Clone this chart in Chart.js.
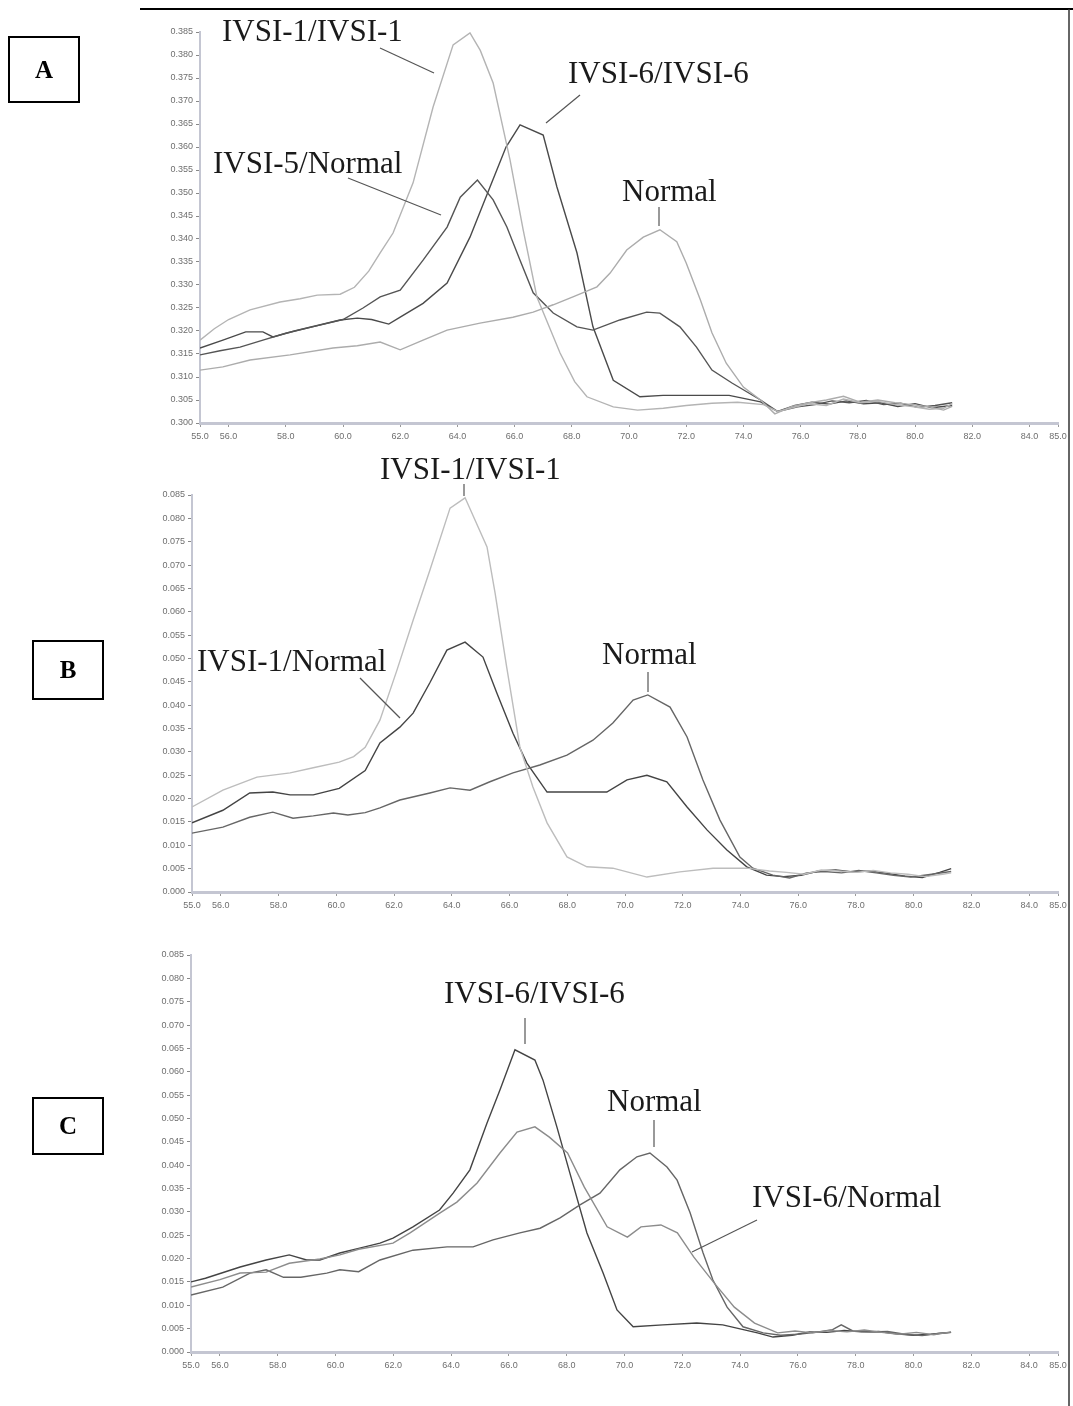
<!DOCTYPE html>
<html>
<head>
<meta charset="utf-8">
<script src="https://cdn.jsdelivr.net/npm/chart.js@4"></script>
<style>
  body { margin: 0; background: #fff; }
  #page { position: relative; width: 1073px; height: 1406px; overflow: hidden; }
  canvas { position: absolute; left: 0; }
  .lbl { position: absolute; font-family: "Liberation Serif", "Times New Roman", serif; font-size: 31px; color: #1a1a1a; white-space: nowrap; line-height: 1; transform: translateY(-50%); }
  .box { position: absolute; border: 2px solid #000; font-family: "Liberation Serif", serif; font-weight: bold; font-size: 25px; display: flex; align-items: center; justify-content: center; box-sizing: border-box; }
  svg { position: absolute; left: 0; top: 0; }
</style>
</head>
<body>
<div id="page">
  <canvas id="chartA" style="top:0px"></canvas>
  <canvas id="chartB" style="top:460px"></canvas>
  <canvas id="chartC" style="top:930px"></canvas>

  <svg width="1073" height="1406">
    <line x1="140" y1="9" x2="1073" y2="9" stroke="#000" stroke-width="2"/>
    <line x1="1069" y1="9" x2="1069" y2="1406" stroke="#333" stroke-width="1.5"/>
    <g stroke="#555" stroke-width="1.2">
      <line x1="380" y1="48" x2="434" y2="73"/>
      <line x1="580" y1="95" x2="546" y2="123"/>
      <line x1="348" y1="178" x2="441" y2="215"/>
      <line x1="659" y1="207" x2="659" y2="226"/>
      <line x1="464" y1="484" x2="464" y2="496"/>
      <line x1="360" y1="678" x2="400" y2="718"/>
      <line x1="648" y1="672" x2="648" y2="692"/>
      <line x1="525" y1="1018" x2="525" y2="1044"/>
      <line x1="654" y1="1120" x2="654" y2="1147"/>
      <line x1="757" y1="1220" x2="692" y2="1252"/>
    </g>
  </svg>

  <div class="box" style="left:8px;top:36px;width:72px;height:67px">A</div>
  <div class="box" style="left:32px;top:640px;width:72px;height:60px">B</div>
  <div class="box" style="left:32px;top:1097px;width:72px;height:58px">C</div>

  <div class="lbl" style="left:222px;top:30px">IVSI-1/IVSI-1</div>
  <div class="lbl" style="left:568px;top:72px">IVSI-6/IVSI-6</div>
  <div class="lbl" style="left:213px;top:162px">IVSI-5/Normal</div>
  <div class="lbl" style="left:622px;top:190px">Normal</div>

  <div class="lbl" style="left:380px;top:468px">IVSI-1/IVSI-1</div>
  <div class="lbl" style="left:197px;top:660px">IVSI-1/Normal</div>
  <div class="lbl" style="left:602px;top:653px">Normal</div>

  <div class="lbl" style="left:444px;top:992px">IVSI-6/IVSI-6</div>
  <div class="lbl" style="left:607px;top:1100px">Normal</div>
  <div class="lbl" style="left:752px;top:1196px">IVSI-6/Normal</div>
</div>

<script>
// x ticks shared by all three panels
var xTicks = [55, 56, 58, 60, 62, 64, 66, 68, 70, 72, 74, 76, 78, 80, 82, 84, 85];
var yTicksA = [0.300, 0.305, 0.310, 0.315, 0.320, 0.325, 0.330, 0.335, 0.340, 0.345, 0.350, 0.355, 0.360, 0.365, 0.370, 0.375, 0.380, 0.385];
var yTicksBC = [0.000, 0.005, 0.010, 0.015, 0.020, 0.025, 0.030, 0.035, 0.040, 0.045, 0.050, 0.055, 0.060, 0.065, 0.070, 0.075, 0.080, 0.085];

// panel A
var aIvsi1 = [[55,0.318],[55.5,0.3205],[56,0.3225],[56.75,0.3246],[57.8,0.3263],[58.5,0.327],[59.1,0.3278],[59.9,0.328],[60.4,0.3295],[60.9,0.333],[61.3,0.337],[61.75,0.3413],[62.45,0.3522],[63.15,0.3687],[63.85,0.3822],[64.44,0.3848],[64.8,0.381],[65.25,0.3739],[65.84,0.3572],[66.3,0.342],[66.78,0.3274],[67.59,0.3152],[68.1,0.309],[68.53,0.3057],[69.45,0.3035],[70.3,0.3028],[71.2,0.3032],[72.0,0.3038],[72.9,0.3043],[73.8,0.3045],[74.7,0.304],[75.2,0.3025],[75.7,0.3033],[76.3,0.3042],[76.9,0.3038],[77.5,0.3052],[78.1,0.3044],[78.7,0.3047],[79.3,0.304],[79.9,0.3036],[80.5,0.303],[81.0,0.3032],[81.3,0.3042]];
var aIvsi6 = [[55,0.3163],[55.8,0.318],[56.6,0.3198],[57.2,0.3198],[57.55,0.3187],[58.3,0.32],[59.1,0.3212],[59.9,0.3224],[60.5,0.3228],[61.0,0.3225],[61.6,0.3215],[62.0,0.323],[62.8,0.326],[63.64,0.3304],[64.44,0.3404],[65.14,0.3513],[65.7,0.36],[66.19,0.3648],[67.0,0.3626],[67.48,0.3513],[68.18,0.337],[68.74,0.3209],[69.45,0.3093],[70.38,0.3057],[71.19,0.306],[72.3,0.306],[73.5,0.306],[74.6,0.3046],[75.2,0.3025],[75.8,0.3038],[76.4,0.3045],[77.0,0.3041],[77.6,0.3048],[78.2,0.3042],[78.8,0.3044],[79.4,0.3036],[80.0,0.3042],[80.6,0.3033],[81.3,0.3038]];
var aIvsi5 = [[55,0.3148],[55.7,0.3157],[56.4,0.3165],[57.2,0.318],[58.0,0.3195],[59.0,0.321],[60.0,0.3225],[60.7,0.325],[61.3,0.3274],[62.0,0.3289],[62.8,0.3354],[63.64,0.3426],[64.1,0.3491],[64.7,0.3528],[65.25,0.3485],[65.73,0.3426],[66.19,0.3354],[66.65,0.3283],[67.35,0.3239],[68.18,0.3209],[68.74,0.3202],[69.68,0.3224],[70.62,0.3241],[71.08,0.3239],[71.78,0.3209],[72.36,0.3165],[72.9,0.3115],[73.6,0.3087],[74.6,0.305],[75.2,0.3025],[75.9,0.3035],[76.5,0.304],[77.1,0.3048],[77.7,0.3044],[78.3,0.3049],[78.9,0.304],[79.5,0.3043],[80.1,0.3034],[80.7,0.3038],[81.3,0.3044]];
var aNormal = [[55,0.3115],[55.8,0.3122],[56.75,0.3137],[58.15,0.3148],[59.65,0.3163],[60.5,0.3168],[61.3,0.3176],[62.0,0.3159],[62.8,0.318],[63.64,0.3202],[64.79,0.3217],[65.94,0.323],[66.65,0.3241],[67.35,0.3257],[68.04,0.3274],[68.88,0.3296],[69.34,0.3326],[69.92,0.3376],[70.5,0.3404],[71.08,0.342],[71.67,0.3394],[72.0,0.3348],[72.5,0.3267],[72.9,0.3196],[73.4,0.313],[74.0,0.3078],[74.6,0.305],[75.1,0.302],[75.7,0.3036],[76.3,0.3044],[76.9,0.305],[77.5,0.3058],[78.1,0.3045],[78.7,0.305],[79.3,0.3044],[79.9,0.304],[80.5,0.3035],[81.0,0.3028],[81.3,0.3036]];

// panel B
var bIvsi1 = [[55,0.0182],[56.07,0.0218],[57.25,0.0246],[58.4,0.0255],[59.2,0.0266],[60.1,0.0278],[60.6,0.029],[61.0,0.031],[61.51,0.0368],[62.1,0.0475],[62.66,0.0582],[63.24,0.0689],[63.94,0.0822],[64.46,0.0844],[65.22,0.0739],[65.5,0.064],[65.9,0.0482],[66.36,0.031],[66.81,0.0225],[67.3,0.0148],[67.99,0.0075],[68.68,0.0054],[69.58,0.0051],[70.76,0.0032],[71.9,0.0043],[73.05,0.0051],[74.22,0.0051],[75.0,0.0045],[75.6,0.0042],[76.2,0.0038],[76.8,0.0047],[77.4,0.0045],[78.0,0.0042],[78.6,0.0046],[79.2,0.0041],[79.8,0.0038],[80.4,0.0033],[81.0,0.0038],[81.3,0.0041]];
var bIvsi1Normal = [[55,0.0148],[56.07,0.0175],[57.0,0.0212],[57.8,0.0214],[58.4,0.0208],[59.2,0.0208],[60.1,0.0222],[61.0,0.026],[61.51,0.0319],[62.2,0.0353],[62.66,0.0383],[63.24,0.0448],[63.83,0.0518],[64.46,0.0535],[65.08,0.0503],[65.56,0.0426],[66.12,0.034],[66.6,0.0276],[67.3,0.0214],[69.37,0.0214],[70.07,0.024],[70.76,0.025],[71.45,0.0236],[72.15,0.0182],[72.84,0.0133],[73.53,0.009],[74.22,0.0054],[74.9,0.0036],[75.5,0.0033],[76.1,0.0036],[76.7,0.0045],[77.3,0.0047],[77.9,0.0043],[78.5,0.0045],[79.1,0.004],[79.7,0.0034],[80.3,0.0031],[80.9,0.0042],[81.3,0.005]];
var bNormal = [[55,0.0126],[56.07,0.0139],[57.0,0.016],[57.8,0.0171],[58.5,0.0158],[59.2,0.0163],[59.9,0.0169],[60.4,0.0165],[61.0,0.017],[61.51,0.018],[62.2,0.0197],[63.24,0.0212],[63.94,0.0223],[64.63,0.0218],[65.32,0.0236],[66.12,0.0255],[67.05,0.0272],[67.99,0.0293],[68.89,0.0325],[69.58,0.0362],[70.28,0.0411],[70.79,0.0422],[71.56,0.0396],[72.15,0.0332],[72.7,0.024],[73.29,0.0154],[73.98,0.0075],[74.43,0.0051],[75.12,0.0036],[75.7,0.003],[76.3,0.0041],[76.9,0.0044],[77.5,0.0041],[78.1,0.0046],[78.7,0.0041],[79.3,0.0036],[79.9,0.0032],[80.5,0.0037],[81.3,0.0044]];

// panel C
var cIvsi6 = [[55,0.015],[55.5,0.0158],[56.7,0.0182],[57.6,0.0197],[58.4,0.0208],[59.0,0.0197],[59.46,0.0197],[60.15,0.0212],[60.8,0.0222],[61.54,0.0233],[61.99,0.0244],[62.68,0.0268],[63.6,0.0304],[64.07,0.034],[64.65,0.039],[65.24,0.049],[65.69,0.0561],[66.21,0.0647],[66.9,0.0625],[67.18,0.0582],[67.66,0.0482],[68.11,0.0383],[68.7,0.0255],[69.26,0.0169],[69.74,0.009],[70.3,0.0054],[71.33,0.0058],[72.5,0.0062],[73.4,0.0058],[74.6,0.0041],[75.14,0.0032],[75.8,0.0036],[76.4,0.0043],[77.0,0.0042],[77.6,0.0046],[78.2,0.0043],[78.8,0.0044],[79.4,0.0039],[80.0,0.0036],[80.6,0.0038],[81.3,0.0042]];
var cIvsi6Normal = [[55,0.0139],[56.0,0.0155],[56.7,0.0169],[57.6,0.0171],[58.4,0.019],[59.46,0.0199],[60.15,0.0208],[60.8,0.022],[61.99,0.0233],[62.58,0.0255],[63.62,0.0298],[64.2,0.0321],[64.9,0.0362],[65.69,0.0426],[66.28,0.0471],[66.9,0.0482],[67.4,0.046],[68.03,0.0426],[68.61,0.0353],[69.4,0.0268],[70.1,0.0246],[70.57,0.0268],[71.26,0.0272],[71.83,0.0255],[72.4,0.0203],[73.1,0.0148],[73.8,0.0096],[74.5,0.0062],[75.3,0.0041],[75.9,0.0045],[76.5,0.0041],[77.1,0.0046],[77.7,0.0043],[78.3,0.0047],[78.9,0.0042],[79.5,0.0038],[80.1,0.0042],[80.7,0.0037],[81.3,0.0043]];
var cNormal = [[55,0.0122],[56.1,0.0139],[57.04,0.0169],[57.6,0.0176],[58.2,0.016],[58.8,0.016],[59.7,0.0169],[60.15,0.0176],[60.8,0.0172],[61.54,0.0197],[62.68,0.0218],[63.86,0.0225],[64.76,0.0225],[65.45,0.024],[66.38,0.0255],[67.08,0.0265],[67.77,0.0287],[68.46,0.0315],[69.15,0.034],[69.84,0.039],[70.43,0.0418],[70.88,0.0426],[71.47,0.0396],[71.82,0.0368],[72.27,0.0298],[72.72,0.0212],[73.06,0.0154],[73.55,0.0096],[74.1,0.0054],[74.8,0.0041],[75.4,0.0036],[76.0,0.0038],[76.6,0.0042],[77.2,0.0048],[77.5,0.0058],[77.9,0.0045],[78.5,0.0043],[79.1,0.0044],[79.7,0.0038],[80.3,0.0035],[80.9,0.004],[81.3,0.0042]];

function line(data, color, width) {
    return {
        data: data,
        borderColor: color,
        borderWidth: width || 1.4,
        pointRadius: 0,
        tension: 0,
        fill: false
    };
}

function makePanel(id, canvasHeight, padTop, xHeight, yWidth, yTicks, datasets) {
    var cv = document.getElementById(id);
    cv.width = 1073;
    cv.height = canvasHeight;
    cv.style.width = '1073px';
    cv.style.height = canvasHeight + 'px';
    return new Chart(cv.getContext('2d'), {
        type: 'line',
        data: { datasets: datasets },
        options: {
            responsive: false,
            animation: false,
            layout: { padding: { top: padTop, right: 15, left: 0, bottom: 0 } },
            plugins: { legend: { display: false }, tooltip: { enabled: false } },
            scales: {
                x: {
                    type: 'linear',
                    min: 55,
                    max: 85,
                    afterBuildTicks: function (axis) {
                        axis.ticks = xTicks.map(function (v) { return { value: v }; });
                    },
                    afterFit: function (axis) { axis.height = xHeight; },
                    ticks: {
                        autoSkip: false,
                        maxRotation: 0,
                        padding: 4,
                        color: '#6e6e6e',
                        font: { family: 'Liberation Sans', size: 9 },
                        callback: function (v) { return Number(v).toFixed(1); }
                    },
                    grid: { display: true, drawOnChartArea: false, drawTicks: true, tickLength: 4, color: '#999' },
                    border: { display: true, color: '#c4c6d2', width: 3 }
                },
                y: {
                    type: 'linear',
                    min: yTicks[0],
                    max: yTicks[yTicks.length - 1],
                    afterBuildTicks: function (axis) {
                        axis.ticks = yTicks.map(function (v) { return { value: v }; });
                    },
                    afterFit: function (axis) { axis.width = yWidth; },
                    ticks: {
                        autoSkip: false,
                        padding: 3,
                        color: '#6e6e6e',
                        font: { family: 'Liberation Sans', size: 9 },
                        callback: function (v) { return Number(v).toFixed(3); }
                    },
                    grid: { display: true, drawOnChartArea: false, drawTicks: true, tickLength: 4, color: '#888' },
                    border: { display: true, color: '#c4c6d2', width: 2 }
                }
            }
        }
    });
}

makePanel('chartA', 450, 32, 27, 200, yTicksA, [
    line(aIvsi1, '#b4b4b4'),
    line(aNormal, '#acacac'),
    line(aIvsi5, '#555555'),
    line(aIvsi6, '#4a4a4a')
]);

makePanel('chartB', 460, 35, 28, 192, yTicksBC, [
    line(bIvsi1, '#bdbdbd'),
    line(bNormal, '#666666'),
    line(bIvsi1Normal, '#444444')
]);

makePanel('chartC', 450, 25, 28, 191, yTicksBC, [
    line(cIvsi6Normal, '#8c8c8c'),
    line(cNormal, '#666666'),
    line(cIvsi6, '#444444')
]);
</script>
</body>
</html>
